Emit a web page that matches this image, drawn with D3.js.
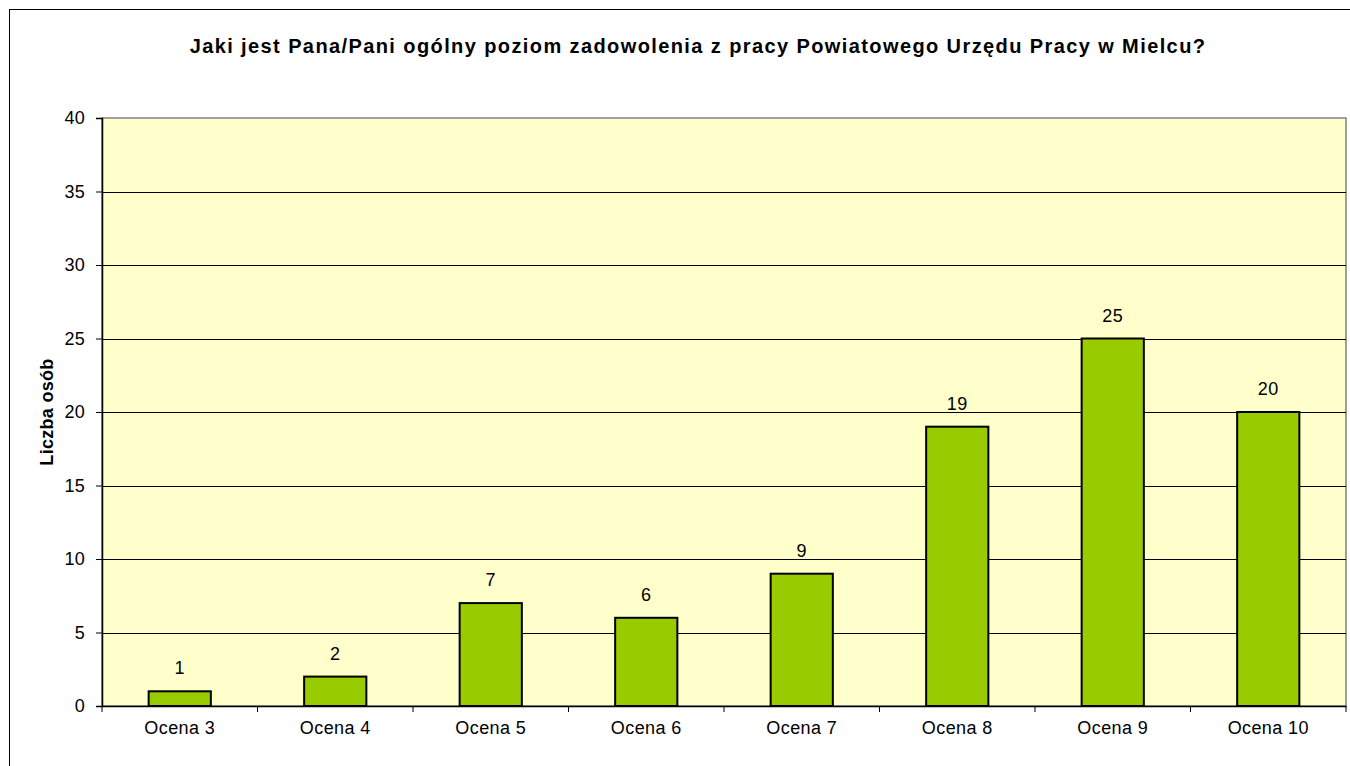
<!DOCTYPE html>
<html lang="pl">
<head>
    <meta charset="UTF-8">
    <title>Poziom zadowolenia</title>
    <script src="https://d3js.org/d3.v7.min.js"></script>
    <style>
        body { margin: 0; background: #fff; }
        svg { display: block; font-family: "Liberation Sans", Arial, sans-serif; }
    </style>
</head>
<body>
    <div id="chart"></div>
    <script>
        const categories = ["Ocena 3", "Ocena 4", "Ocena 5", "Ocena 6", "Ocena 7", "Ocena 8", "Ocena 9", "Ocena 10"];
        const values = [1, 2, 7, 6, 9, 19, 25, 20];
        const yTicks = [0, 5, 10, 15, 20, 25, 30, 35, 40];

        const width = 1350, height = 766;
        const plot = { left: 102, top: 118, right: 1346, bottom: 706 };

        const svg = d3.select("#chart").append("svg")
            .attr("width", width)
            .attr("height", height);

        // outer chart border
        svg.append("rect")
            .attr("x", 9.5).attr("y", 9.5)
            .attr("width", width + 10).attr("height", height + 10)
            .attr("fill", "#fff")
            .attr("stroke", "#000")
            .attr("stroke-width", 1);

        const x = d3.scaleBand()
            .domain(categories)
            .range([plot.left, plot.right])
            .paddingInner(0.6)
            .paddingOuter(0.3);

        const xOuter = d3.scaleBand()
            .domain(categories)
            .range([plot.left, plot.right]);

        const y = d3.scaleLinear()
            .domain([0, 40])
            .range([plot.bottom, plot.top]);

        // plot background
        svg.append("rect")
            .attr("x", plot.left).attr("y", plot.top)
            .attr("width", plot.right - plot.left)
            .attr("height", plot.bottom - plot.top)
            .attr("fill", "#FFFFCC")
            .attr("stroke", "#808080")
            .attr("stroke-width", 1.5);

        // gridlines
        svg.append("g")
            .selectAll("line")
            .data(yTicks.filter(d => d > 0 && d < 40))
            .enter().append("line")
            .attr("x1", plot.left).attr("x2", plot.right)
            .attr("y1", d => Math.round(y(d)) + 0.5)
            .attr("y2", d => Math.round(y(d)) + 0.5)
            .attr("stroke", "#000")
            .attr("stroke-width", 1);

        // bars
        svg.append("g")
            .selectAll("rect")
            .data(values)
            .enter().append("rect")
            .attr("x", (d, i) => x(categories[i]))
            .attr("y", d => y(d))
            .attr("width", x.bandwidth())
            .attr("height", d => y(0) - y(d))
            .attr("fill", "#99CC00")
            .attr("stroke", "#000")
            .attr("stroke-width", 2);

        // value labels
        svg.append("g")
            .selectAll("text")
            .data(values)
            .enter().append("text")
            .attr("x", (d, i) => x(categories[i]) + x.bandwidth() / 2)
            .attr("y", d => y(d) - 17)
            .attr("text-anchor", "middle")
            .style("font-size", "18px")
            .style("letter-spacing", "0.6px")
            .text(d => d);

        // y axis
        const yAxis = svg.append("g")
            .attr("transform", `translate(${plot.left},0)`)
            .call(d3.axisLeft(y).tickValues(yTicks).tickSize(6).tickPadding(11));
        yAxis.select(".domain").attr("stroke", "#000").attr("stroke-width", 1.5);
        yAxis.selectAll(".tick line").attr("stroke", "#000");
        yAxis.selectAll("text").style("font-size", "18px").style("letter-spacing", "0.3px").attr("fill", "#000");

        // x axis
        const xAxis = svg.append("g")
            .attr("transform", `translate(0,${plot.bottom})`)
            .call(d3.axisBottom(xOuter).tickSize(0).tickPadding(15));
        xAxis.select(".domain").attr("stroke", "#000").attr("stroke-width", 1.5);
        xAxis.selectAll("text").style("font-size", "18px").style("letter-spacing", "0.4px").attr("fill", "#000");

        // category boundary ticks
        const bounds = categories.map(c => xOuter(c)).concat([plot.right]);
        svg.append("g")
            .selectAll("line")
            .data(bounds)
            .enter().append("line")
            .attr("x1", d => d).attr("x2", d => d)
            .attr("y1", plot.bottom).attr("y2", plot.bottom + 6)
            .attr("stroke", "#000");

        // y axis title
        svg.append("text")
            .attr("transform", `translate(53,${(plot.top + plot.bottom) / 2}) rotate(-90)`)
            .attr("text-anchor", "middle")
            .style("font-size", "18px")
            .style("font-weight", "bold")
            .style("letter-spacing", "0.3px")
            .text("Liczba osób");

        // title
        svg.append("text")
            .attr("x", 698)
            .attr("y", 53)
            .attr("text-anchor", "middle")
            .style("font-size", "20px")
            .style("font-weight", "bold")
            .style("letter-spacing", "1.4px")
            .text("Jaki jest Pana/Pani ogólny  poziom zadowolenia z pracy Powiatowego  Urzędu Pracy w Mielcu?");
    </script>
</body>
</html>
